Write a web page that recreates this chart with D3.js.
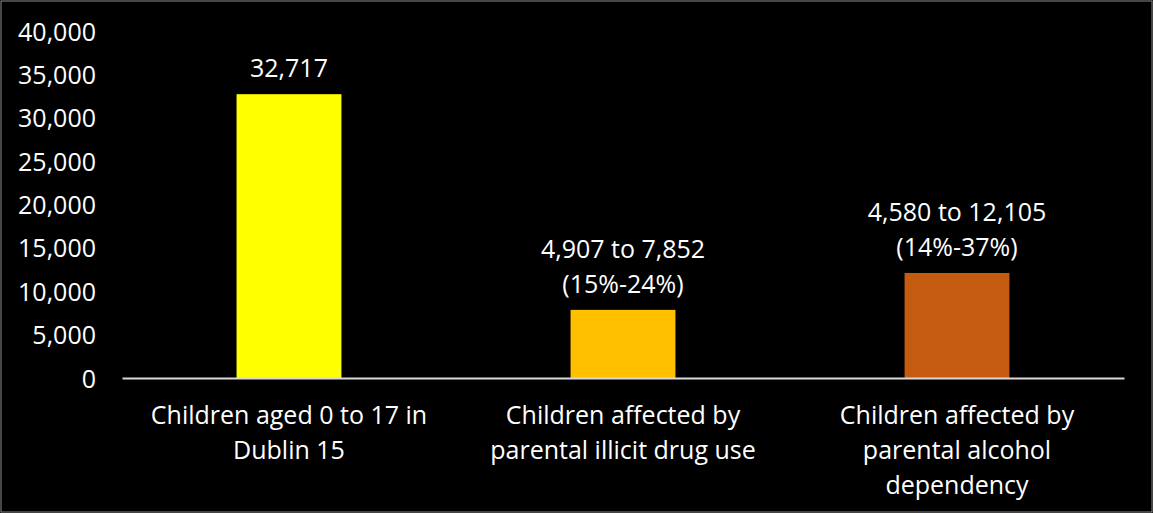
<!DOCTYPE html>
<html><head><meta charset="utf-8">
<script src="https://cdn.jsdelivr.net/npm/d3@7"></script>
<style>html,body{margin:0;padding:0;background:#000;}svg{display:block;}</style>
</head><body>
<script>
const categories = [
  ["Children aged 0 to 17 in", "Dublin 15"],
  ["Children affected by", "parental illicit drug use"],
  ["Children affected by", "parental alcohol", "dependency"]
];
const values = [32717, 7852, 12105];
const valueLabels = [["32,717"], ["4,907 to 7,852", "(15%-24%)"], ["4,580 to 12,105", "(14%-37%)"]];
const colors = ["#FFFF00", "#FFC000", "#C55A11"];
const yTicks = [0, 5000, 10000, 15000, 20000, 25000, 30000, 35000, 40000];

const W = 1153, H = 513;
const font = "'Open Sans', sans-serif";
const fs = 25;
const svg = d3.select("body").append("svg").attr("width", W).attr("height", H);
svg.append("rect").attr("x", 1).attr("y", 1).attr("width", W - 2).attr("height", H - 2)
  .attr("fill", "#000").attr("stroke", "#8c8c8c").attr("stroke-width", 1);

const x = d3.scaleBand().domain(d3.range(values.length)).range([122, 1124]).paddingInner(0.686).paddingOuter(0.343);
const y = d3.scaleLinear().domain([0, 40000]).range([378, 31]);

// y axis labels
const yAxis = d3.axisLeft(y).tickValues(yTicks).tickFormat(d3.format(",")).tickSize(0).tickPadding(0);
const gy = svg.append("g").attr("transform", "translate(96,0)").call(yAxis);
gy.select(".domain").remove();
gy.selectAll("text").attr("fill", "#fff").attr("font-size", fs).attr("font-family", font).attr("dy", "0.36em");

// bars
svg.selectAll("rect.bar").data(values).enter().append("rect").attr("class", "bar")
  .attr("x", (d, i) => x(i)).attr("width", x.bandwidth())
  .attr("y", d => y(d)).attr("height", d => y(0) - y(d))
  .attr("fill", (d, i) => colors[i]);

// baseline axis
const xAxis = d3.axisBottom(x).tickSize(0).tickFormat("");
const gx = svg.append("g").attr("transform", `translate(0,${y(0)})`).call(xAxis);
gx.select(".domain").attr("stroke", "#d9d9d9").attr("stroke-width", 2);

// value labels
valueLabels.forEach((lines, i) => {
  const cx = x(i) + x.bandwidth() / 2;
  const n = lines.length;
  lines.forEach((t, j) => {
    svg.append("text").attr("x", cx).attr("y", y(values[i]) - 17 - (n - 1 - j) * 35)
      .attr("text-anchor", "middle").attr("fill", "#fff").attr("font-size", fs)
      .attr("font-family", font).text(t);
  });
});

// category labels
categories.forEach((lines, i) => {
  const cx = x(i) + x.bandwidth() / 2;
  lines.forEach((t, j) => {
    svg.append("text").attr("x", cx).attr("y", 424 + j * 35)
      .attr("text-anchor", "middle").attr("fill", "#fff").attr("font-size", fs)
      .attr("font-family", font).text(t);
  });
});
</script>
</body></html>
